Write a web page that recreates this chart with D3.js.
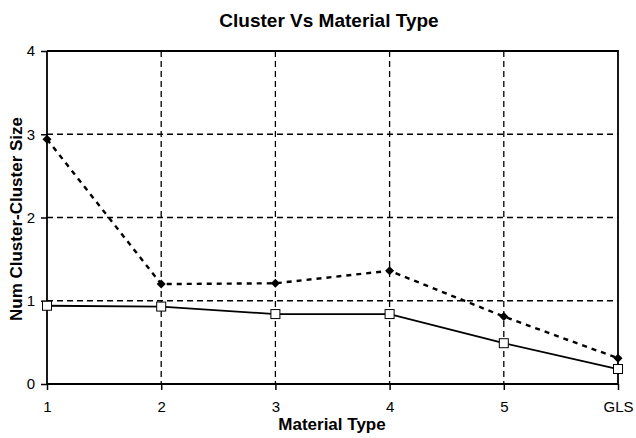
<!DOCTYPE html>
<html>
<head>
<meta charset="utf-8">
<script src="https://cdn.jsdelivr.net/npm/d3@7"></script>
<style>
  html, body { margin: 0; padding: 0; background: #fff; }
  svg { display: block; font-family: "Liberation Sans", Arial, Helvetica, sans-serif; }
</style>
</head>
<body>
<svg id="chart" width="636" height="438"></svg>
<script>
// Material types along the x axis
const categories = ["1", "2", "3", "4", "5", "GLS"];
// Dashed series with filled diamond markers
const dashedValues = [2.94, 1.20, 1.21, 1.36, 0.81, 0.31];
// Solid series with open square markers
const solidValues = [0.94, 0.93, 0.84, 0.84, 0.49, 0.18];
// Y axis ticks
const yTicks = [0, 1, 2, 3, 4];

const svg = d3.select("#chart");
const margin = { left: 47, right: 18, top: 51, bottom: 54 };
const W = 636, H = 438;
const x0 = margin.left, x1 = W - margin.right;
const y0 = H - margin.bottom, y1 = margin.top;

const x = d3.scalePoint().domain(categories).range([x0, x1]);
const y = d3.scaleLinear().domain([0, 4]).range([y0, y1]);

// Dashed gridlines
const grid = svg.append("g").attr("stroke", "#000").attr("stroke-width", 1.3)
  .attr("stroke-dasharray", "6,4");
grid.selectAll("line.h").data(yTicks.filter(v => v > 0 && v < 4)).join("line")
  .attr("x1", x0).attr("x2", x1)
  .attr("y1", d => y(d)).attr("y2", d => y(d));
grid.selectAll("line.v").data(categories.slice(1, -1)).join("line")
  .attr("y1", y1).attr("y2", y0)
  .attr("x1", d => x(d)).attr("x2", d => x(d));

// Frame: top and right border
svg.append("path")
  .attr("d", `M${x0},${y1}H${x1}V${y0}`)
  .attr("fill", "none").attr("stroke", "#000").attr("stroke-width", 1.8);

// Axes
const yAxis = d3.axisLeft(y).tickValues(yTicks).tickFormat(d3.format("d")).tickSize(6).tickPadding(6);
const xAxis = d3.axisBottom(x).tickSize(6).tickPadding(11);

const gy = svg.append("g").attr("transform", `translate(${x0},0)`).call(yAxis);
const gx = svg.append("g").attr("transform", `translate(0,${y0})`).call(xAxis);
[gx, gy].forEach(g => {
  g.select(".domain").attr("stroke", "#000").attr("stroke-width", 1.8);
  g.selectAll(".tick line").attr("stroke", "#000").attr("stroke-width", 1.5);
  g.selectAll(".tick text").attr("fill", "#000").attr("font-size", 15)
    .attr("font-family", "'Liberation Sans', Arial, sans-serif");
});
gx.select(".domain").attr("d", `M${x0},0H${x1}`);
gy.select(".domain").attr("d", `M0,${y0}V${y1}`);

// Lines
const line = d3.line().x((d, i) => x(categories[i])).y(d => y(d));
svg.append("path").datum(dashedValues)
  .attr("d", line).attr("fill", "none").attr("stroke", "#000")
  .attr("stroke-width", 2.4).attr("stroke-dasharray", "5,5");
svg.append("path").datum(solidValues)
  .attr("d", line).attr("fill", "none").attr("stroke", "#000")
  .attr("stroke-width", 1.8);

// Markers: filled diamonds and open squares
const r = 4.5;
svg.append("g").selectAll("path").data(dashedValues).join("path")
  .attr("transform", (d, i) => `translate(${x(categories[i])},${y(d)})`)
  .attr("d", `M0,${-r}L${r},0L0,${r}L${-r},0Z`).attr("fill", "#000");
svg.append("g").selectAll("rect").data(solidValues).join("rect")
  .attr("x", (d, i) => x(categories[i]) - 4.5).attr("y", d => y(d) - 4.5)
  .attr("width", 9).attr("height", 9)
  .attr("fill", "#fff").attr("stroke", "#000").attr("stroke-width", 1);

// Titles
svg.append("text").attr("x", 329).attr("y", 27).attr("text-anchor", "middle")
  .attr("font-weight", "bold").attr("font-size", 19).text("Cluster Vs Material Type");
svg.append("text").attr("x", 332).attr("y", 430).attr("text-anchor", "middle")
  .attr("font-weight", "bold").attr("font-size", 17).text("Material Type");
svg.append("text").attr("transform", `translate(22,219) rotate(-90)`)
  .attr("text-anchor", "middle").attr("font-weight", "bold").attr("font-size", 17)
  .text("Num Cluster-Cluster Size");
</script>
</body>
</html>
